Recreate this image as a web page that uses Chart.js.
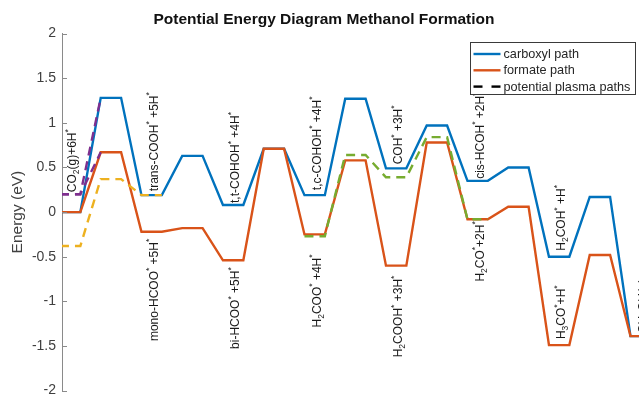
<!DOCTYPE html>
<html>
<head>
<meta charset="utf-8">
<script src="https://cdn.jsdelivr.net/npm/chart.js@4.4.1/dist/chart.umd.min.js"></script>
<style>
  html, body { margin: 0; padding: 0; background: #ffffff; overflow: hidden; }
  #wrap { width: 710px; height: 405px; position: relative; }
</style>
</head>
<body>
<div id="wrap"><canvas id="c" width="710" height="405"></canvas></div>
<script>
// Reaction coordinate: even steps are intermediates, odd steps are transition states.
const carboxylEnergy = [0, 1.28, 0.19, 0.63, 0.08, 0.71, 0.19, 1.27, 0.49, 0.97, 0.35, 0.50, -0.50, 0.17, -1.39];
const formateEnergy  = [0, 0.67, -0.22, -0.18, -0.54, 0.71, -0.25, 0.58, -0.60, 0.78, -0.08, 0.06, -1.49, -0.48, -1.39];

// Plasma-assisted alternatives: levels starting at a given step.
const plasmaCarboxylLevels = [0.20, 1.28];          // from step 0, ends at the barrier
const plasmaFormateLevels  = [0.20, 0.67];          // from step 0, ends at the barrier
const plasmaLowCO2Levels   = [-0.38, 0.37, 0.19];   // from step 0
const plasmaH2COOLevels    = [-0.27, 0.64, 0.39, 0.84, -0.08]; // from step 6
const plasmaH2COOStart = 6;

const energyTicks = [-2, -1.5, -1, -0.5, 0, 0.5, 1, 1.5, 2];

// Intermediate names (_x = subscript, ^x = superscript), the step they belong to,
// the path they sit next to and on which side.
const labelText = [
  'CO_2(g)+6H^*', 'trans-COOH^* +5H^*', 'mono-HCOO^* +5H^*', 't,t-COHOH^* +4H^*',
  'bi-HCOO^* +5H^*', 't,c-COHOH^* +4H^*', 'H_2COO^* +4H^*', 'COH^* +3H^*',
  'H_2COOH^* +3H^*', 'cis-HCOH^* +2H^*', 'H_2CO^*+2H^*', 'H_2COH^* +H^*',
  'H_3CO^*+H^*', 'CH_3OH(g)'
];
const labelStep = [0, 2, 2, 4, 4, 6, 6, 8, 8, 10, 10, 12, 12, 14];
const labelPath = ['plasma', 'carboxyl', 'formate', 'carboxyl', 'formate', 'carboxyl', 'formate',
                   'carboxyl', 'formate', 'carboxyl', 'formate', 'carboxyl', 'formate', 'formate'];
const labelSide = ['above', 'above', 'below', 'above', 'below', 'above', 'below',
                   'above', 'below', 'above', 'below', 'above', 'above', 'above'];

// ---- styling ----
const labelGapPx = [2, 4, 7, 2, 7, 5, 20, 4, 10, 2, 2, 6, 6, 3];
const COLORS = {
  carboxyl: '#0072BD', formate: '#D95319', yellow: '#EDB120',
  purple: '#7E2F8E', green: '#77AC30'
};
const FONT = '"Liberation Sans", Arial, Helvetica, sans-serif';
const HALF = 0.25; // half width of each energy level plateau, in steps
const LINE_W = 2.4;

function levelPoints(levels, start, trimLast) {
  const pts = [];
  levels.forEach((e, i) => {
    const k = start + i;
    pts.push({ x: k - HALF, y: e });
    if (!(trimLast && i === levels.length - 1)) pts.push({ x: k + HALF, y: e });
  });
  return pts;
}

const pathLevels = { carboxyl: carboxylEnergy, formate: formateEnergy };

function parseMarkup(s) {
  const segs = [];
  for (let i = 0; i < s.length; i++) {
    const c = s[i];
    if ((c === '_' || c === '^') && i + 1 < s.length) {
      segs.push({ t: s[i + 1], k: c === '_' ? 'sub' : 'sup' });
      i++;
    } else {
      const last = segs[segs.length - 1];
      if (last && last.k === 'n') last.t += c; else segs.push({ t: c, k: 'n' });
    }
  }
  return segs;
}

const stepLabelsPlugin = {
  id: 'stepLabels',
  afterDatasetsDraw(chart) {
    const { ctx, scales: { x, y } } = chart;
    const big = '12px ' + FONT, small = '8.5px ' + FONT;
    labelText.forEach((txt, i) => {
      const k = labelStep[i];
      let e;
      if (labelPath[i] === 'plasma') e = plasmaCarboxylLevels[0];
      else e = pathLevels[labelPath[i]][k];
      const segs = parseMarkup(txt);
      let total = 0;
      segs.forEach(s => { ctx.font = s.k === 'n' ? big : small; s.w = ctx.measureText(s.t).width; total += s.w; });
      const cx = x.getPixelForValue(k) + 2;
      const yLine = y.getPixelForValue(e);
      const gap = labelGapPx[i];
      const y0 = labelSide[i] === 'above' ? yLine - gap : yLine + gap + total;
      ctx.save();
      ctx.translate(cx, y0);
      ctx.rotate(-Math.PI / 2);
      ctx.fillStyle = '#1a1a1a';
      ctx.textBaseline = 'alphabetic';
      ctx.textAlign = 'left';
      let px = 0;
      segs.forEach(s => {
        ctx.font = s.k === 'n' ? big : small;
        const by = s.k === 'n' ? 4.3 : (s.k === 'sub' ? 7.3 : -1.5);
        ctx.fillText(s.t, px, by);
        px += s.w;
      });
      ctx.restore();
    });
  }
};

const innerTicksPlugin = {
  id: 'innerTicks',
  afterDraw(chart) {
    const { ctx, chartArea, scales: { y } } = chart;
    ctx.save();
    ctx.strokeStyle = '#8a8a8a';
    ctx.lineWidth = 1;
    energyTicks.forEach(v => {
      const py = Math.round(y.getPixelForValue(v)) + 0.5;
      ctx.beginPath();
      ctx.moveTo(chartArea.left, py);
      ctx.lineTo(chartArea.left + 5, py);
      ctx.stroke();
    });
    ctx.restore();
  }
};

const legendItems = [
  { text: 'carboxyl path', color: COLORS.carboxyl, dash: [] },
  { text: 'formate path', color: COLORS.formate, dash: [] },
  { text: 'potential plasma paths', color: '#000000', dash: [9, 9] }
];

const boxLegendPlugin = {
  id: 'boxLegend',
  afterDraw(chart) {
    const { ctx, chartArea } = chart;
    const w = 165, h = 52;
    const left = Math.round(chartArea.right - 178) + 0.5;
    const top = Math.round(chartArea.top + 8) + 0.5;
    ctx.save();
    ctx.fillStyle = '#ffffff';
    ctx.fillRect(left, top, w, h);
    ctx.strokeStyle = '#3a3a3a';
    ctx.lineWidth = 1;
    ctx.strokeRect(left, top, w, h);
    ctx.font = '12.7px ' + FONT;
    ctx.textBaseline = 'middle';
    legendItems.forEach((it, i) => {
      const ly = top + 11.5 + i * 16.3;
      ctx.strokeStyle = it.color;
      ctx.lineWidth = LINE_W;
      ctx.setLineDash(it.dash);
      ctx.beginPath();
      ctx.moveTo(left + 3, ly);
      ctx.lineTo(left + 30, ly);
      ctx.stroke();
      ctx.setLineDash([]);
      ctx.fillStyle = '#262626';
      ctx.fillText(it.text, left + 33, ly + 0.5);
    });
    ctx.restore();
  }
};

const solid = (label, data, color) => ({
  label, data, borderColor: color, borderWidth: LINE_W, pointRadius: 0, fill: false, tension: 0
});
const dashed = (label, data, color) => ({
  label, data, borderColor: color, borderWidth: LINE_W, borderDash: [9, 6], pointRadius: 0, fill: false, tension: 0
});

new Chart(document.getElementById('c'), {
  type: 'line',
  data: {
    datasets: [
      dashed('plasma H2COO* route', levelPoints(plasmaH2COOLevels, plasmaH2COOStart, false), COLORS.green),
      dashed('plasma CO2 route', levelPoints(plasmaLowCO2Levels, 0, false), COLORS.yellow),
      dashed('plasma carboxyl start', levelPoints(plasmaCarboxylLevels, 0, true), COLORS.purple),
      dashed('plasma formate start', levelPoints(plasmaFormateLevels, 0, true), COLORS.purple),
      solid('formate path', levelPoints(formateEnergy, 0, false), COLORS.formate),
      solid('carboxyl path', levelPoints(carboxylEnergy, 0, false), COLORS.carboxyl)
    ]
  },
  options: {
    responsive: false,
    animation: false,
    devicePixelRatio: 1,
    events: [],
    layout: { padding: { left: 0, right: 62, top: 0, bottom: 9 } },
    plugins: {
      legend: { display: false },
      tooltip: { enabled: false },
      title: {
        display: true,
        text: 'Potential Energy Diagram Methanol Formation',
        font: { family: FONT, size: 15.5, weight: 'bold' },
        color: '#111111',
        padding: { top: 10, bottom: 5 }
      }
    },
    scales: {
      x: { type: 'linear', min: -0.2, max: 14.18, display: false },
      y: {
        type: 'linear', min: -2, max: 2,
        afterBuildTicks: s => { s.ticks = energyTicks.map(v => ({ value: v })); },
        afterFit: s => { s.width = 62; },
        ticks: {
          font: { family: FONT, size: 14 }, color: '#404040', padding: 6,
          callback: v => String(v)
        },
        grid: { display: false, drawTicks: false },
        border: { display: true, color: '#8a8a8a', width: 1 },
        title: {
          display: true, text: 'Energy (eV)',
          font: { family: FONT, size: 15.5 }, color: '#404040',
          padding: { top: 8, bottom: 0 }
        }
      }
    }
  },
  plugins: [stepLabelsPlugin, innerTicksPlugin, boxLegendPlugin]
});
</script>
</body>
</html>
